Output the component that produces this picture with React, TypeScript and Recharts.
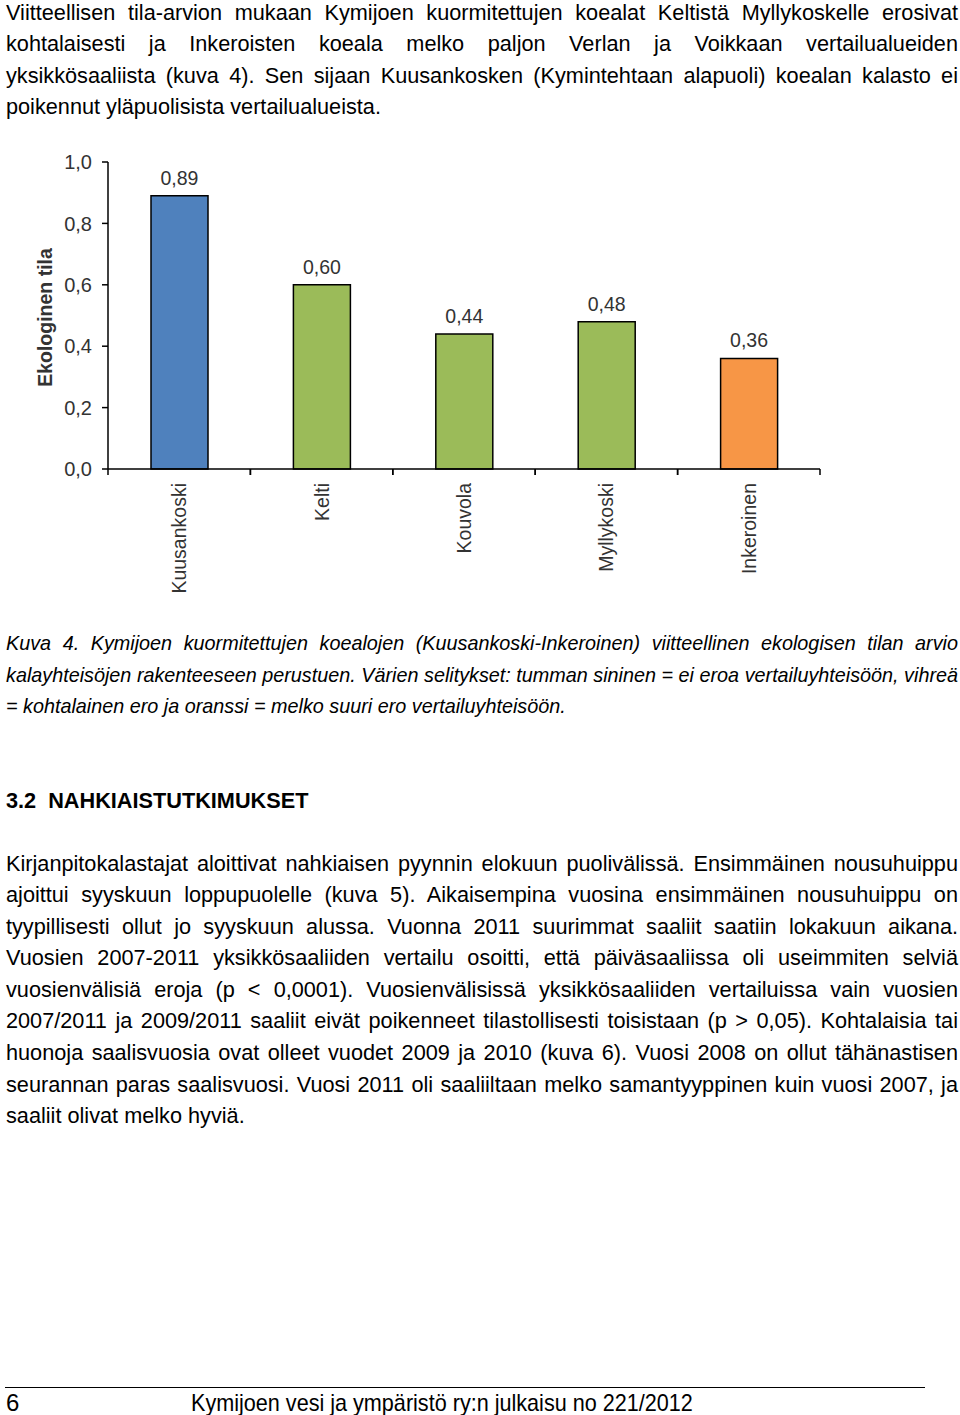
import React from 'react';
import { BarChart, Bar, XAxis, YAxis, Cell, LabelList } from 'recharts';

// ---- data -----------------------------------------------------------------

const sites = ['Kuusankoski', 'Kelti', 'Kouvola', 'Myllykoski', 'Inkeroinen'];
const ecoStatus = [0.89, 0.6, 0.44, 0.48, 0.36];
// difference to the reference community (see caption)
const diffClass = ['ei eroa', 'kohtalainen', 'kohtalainen', 'kohtalainen', 'melko suuri'];
const yTicks = [0, 0.2, 0.4, 0.6, 0.8, 1.0];

const classColors: Record<string, string> = {
  'ei eroa': '#4F81BD',
  kohtalainen: '#9BBB59',
  'melko suuri': '#F79646'
};

const chartData = sites.map((site, i) => ({ site, value: ecoStatus[i], diff: diffClass[i] }));

const introLines = [
  'Viitteellisen tila-arvion mukaan Kymijoen kuormitettujen koealat Keltistä Myllykoskelle erosivat',
  'kohtalaisesti ja Inkeroisten koeala melko paljon Verlan ja Voikkaan vertailualueiden',
  'yksikkösaaliista (kuva 4). Sen sijaan Kuusankosken (Kymintehtaan alapuoli) koealan kalasto ei',
  'poikennut yläpuolisista vertailualueista.'
];

const captionLines = [
  'Kuva 4. Kymijoen kuormitettujen koealojen (Kuusankoski-Inkeroinen) viitteellinen ekologisen tilan arvio',
  'kalayhteisöjen rakenteeseen perustuen. Värien selitykset: tumman sininen = ei eroa vertailuyhteisöön, vihreä',
  '= kohtalainen ero ja oranssi = melko suuri ero vertailuyhteisöön.'
];

const sectionTitle = '3.2  NAHKIAISTUTKIMUKSET';

const bodyLines = [
  'Kirjanpitokalastajat aloittivat nahkiaisen pyynnin elokuun puolivälissä. Ensimmäinen nousuhuippu',
  'ajoittui syyskuun loppupuolelle (kuva 5). Aikaisempina vuosina ensimmäinen nousuhuippu on',
  'tyypillisesti ollut jo syyskuun alussa. Vuonna 2011 suurimmat saaliit saatiin lokakuun aikana.',
  'Vuosien 2007-2011 yksikkösaaliiden vertailu osoitti, että päiväsaaliissa oli useimmiten selviä',
  'vuosienvälisiä eroja (p < 0,0001). Vuosienvälisissä yksikkösaaliiden vertailuissa vain vuosien',
  '2007/2011 ja 2009/2011 saaliit eivät poikenneet tilastollisesti toisistaan (p > 0,05). Kohtalaisia tai',
  'huonoja saalisvuosia ovat olleet vuodet 2009 ja 2010 (kuva 6). Vuosi 2008 on ollut tähänastisen',
  'seurannan paras saalisvuosi. Vuosi 2011 oli saaliiltaan melko samantyyppinen kuin vuosi 2007, ja',
  'saaliit olivat melko hyviä.'
];

const pageNumber = '6';
const footerText = 'Kymijoen vesi ja ympäristö ry:n julkaisu no 221/2012';

// ---- layout ---------------------------------------------------------------

const FONT = "'Liberation Sans', Arial, Helvetica, sans-serif";
const LINE_H = 31.55;
const TEXT_LEFT = 6;
const TEXT_W = 952;

const CHART_W = 860;
const CHART_H = 480;
const CHART_TOP = 130;
const Y_AXIS_W = 108;
const X_AXIS_H = 141;
const MARGIN = { top: 32, right: 40, left: 0, bottom: 0 };
const BAND = (CHART_W - Y_AXIS_W - MARGIN.right) / sites.length;
const CHART_TEXT = '#333333';

const comma = (v: number, digits: number) => v.toFixed(digits).replace('.', ',');

// justified block, one div per printed line so the breaks match the page.
// firstTrim shortens the first line box (keeps the page-top line inside the page)
const Justified = ({ lines, top, size, italic = false, firstTrim = 0 }: {
  lines: string[]; top: number; size: number; italic?: boolean; firstTrim?: number;
}) => (
  <div style={{
    position: 'absolute', left: TEXT_LEFT, top, width: TEXT_W,
    fontSize: size, lineHeight: `${LINE_H}px`, fontStyle: italic ? 'italic' : 'normal'
  }}>
    {lines.map((line, i) => (
      <div
        key={i}
        style={{
          textAlign: 'justify',
          textAlignLast: i === lines.length - 1 ? 'left' : 'justify',
          ...(i === 0 && firstTrim
            ? { lineHeight: `${LINE_H - 2 * firstTrim}px`, marginBottom: firstTrim }
            : {})
        }}
      >
        {line}
      </div>
    ))}
  </div>
);

// category label plus the boundary tick marks of the band
const SiteTick = (props: any) => {
  const { x, y, payload } = props;
  const tx = x + 7;
  const ty = y + 14;
  return (
    <g>
      <line x1={x - BAND / 2} x2={x - BAND / 2} y1={y} y2={y + 6} stroke="#000" strokeWidth={1.5} />
      <line x1={x + BAND / 2} x2={x + BAND / 2} y1={y} y2={y + 6} stroke="#000" strokeWidth={1.5} />
      <text
        x={tx}
        y={ty}
        transform={`rotate(-90, ${tx}, ${ty})`}
        textAnchor="end"
        fill={CHART_TEXT}
        fontSize={19.5}
        fontFamily={FONT}
      >
        {payload.value}
      </text>
    </g>
  );
};

const AxisTitle = (props: any) => {
  const vb = props.viewBox || { y: MARGIN.top, height: CHART_H - MARGIN.top - X_AXIS_H };
  const cx = 52;
  const cy = vb.y + vb.height / 2 + 2;
  return (
    <text
      x={cx}
      y={cy}
      transform={`rotate(-90, ${cx}, ${cy})`}
      textAnchor="middle"
      fill={CHART_TEXT}
      fontSize={19.5}
      fontWeight="bold"
      fontFamily={FONT}
    >
      Ekologinen tila
    </text>
  );
};

export default function App() {
  return (
    <div style={{
      position: 'relative', width: 960, height: 1415, overflow: 'hidden',
      background: '#fff', color: '#000', fontFamily: FONT
    }}>
      <style>{'body{margin:0}'}</style>

      <Justified lines={introLines} top={1.5} size={21.7} firstTrim={5} />

      <div style={{ position: 'absolute', left: 0, top: CHART_TOP }}>
        <BarChart width={CHART_W} height={CHART_H} data={chartData} margin={MARGIN}>
          <XAxis
            dataKey="site"
            height={X_AXIS_H}
            axisLine={{ stroke: '#000', strokeWidth: 1.5 }}
            tickLine={false}
            tickSize={0}
            tickMargin={0}
            interval={0}
            tick={<SiteTick />}
          />
          <YAxis
            width={Y_AXIS_W}
            domain={[0, 1]}
            ticks={yTicks}
            interval={0}
            tickFormatter={(v: number) => comma(v, 1)}
            axisLine={{ stroke: '#000', strokeWidth: 1.5 }}
            tickLine={{ stroke: '#000', strokeWidth: 1.5 }}
            tickSize={6}
            tickMargin={10}
            tick={{ fill: CHART_TEXT, fontSize: 20, fontFamily: FONT }}
            label={<AxisTitle />}
          />
          <Bar dataKey="value" barSize={57} stroke="#000" strokeWidth={1.5} isAnimationActive={false}>
            {chartData.map((d) => (
              <Cell key={d.site} fill={classColors[d.diff]} />
            ))}
            <LabelList
              dataKey="value"
              position="top"
              offset={11}
              formatter={(v: any) => comma(Number(v), 2)}
              fill={CHART_TEXT}
              fontSize={19.5}
              fontFamily={FONT}
            />
          </Bar>
        </BarChart>
      </div>

      <Justified lines={captionLines} top={628.4} size={19.8} italic />

      <div style={{
        position: 'absolute', left: TEXT_LEFT, top: 784.7, fontSize: 21.7,
        fontWeight: 'bold', lineHeight: `${LINE_H}px`, whiteSpace: 'pre'
      }}>
        {sectionTitle}
      </div>

      <Justified lines={bodyLines} top={847.7} size={21.7} />

      <div style={{ position: 'absolute', left: 5, top: 1387, width: 920, borderTop: '1px solid #000' }} />
      <div style={{ position: 'absolute', left: 6, top: 1387, fontSize: 24, lineHeight: `${LINE_H}px` }}>
        {pageNumber}
      </div>
      <div style={{
        position: 'absolute', left: 191, top: 1387, fontSize: 24, lineHeight: `${LINE_H}px`,
        whiteSpace: 'nowrap', transform: 'scaleX(0.9)', transformOrigin: 'left top'
      }}>
        {footerText}
      </div>
    </div>
  );
}
